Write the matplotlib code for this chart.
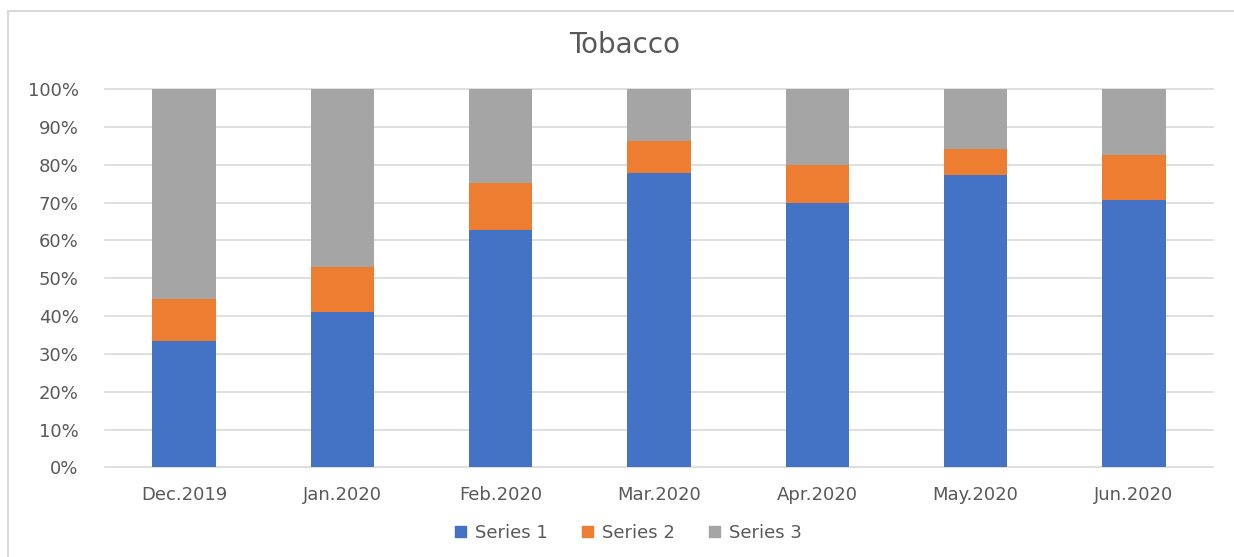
import matplotlib
matplotlib.use("Agg")
import matplotlib.pyplot as plt
from matplotlib.lines import Line2D
from matplotlib.patches import Patch
from matplotlib.ticker import PercentFormatter
import numpy as np

plt.rcParams['font.family'] = ['DejaVu Sans']

months = ['Dec.2019', 'Jan.2020', 'Feb.2020', 'Mar.2020', 'Apr.2020', 'May.2020', 'Jun.2020']
series1 = [33.4, 41.1, 62.7, 77.9, 70.0, 77.3, 70.6]
series2 = [11.1, 11.9, 12.5, 8.4, 10.0, 6.8, 11.9]
series3 = [55.5, 47.0, 24.8, 13.7, 20.0, 15.9, 17.5]
names = ['Series 1', 'Series 2', 'Series 3']
colors = ['#4472C4', '#ED7D31', '#A5A5A5']
text_grey = '#595959'

fig = plt.figure(figsize=(12.34, 5.57), dpi=100)
ax = fig.add_axes([0.0851, 0.1607, 0.8979, 0.6795])

x = np.arange(len(months))
bottom = np.zeros(len(months))
for vals, name, c in zip([series1, series2, series3], names, colors):
    ax.bar(x, vals, 0.4, bottom=bottom, color=c, label=name, zorder=3)
    bottom += np.array(vals)

ax.set_xlim(-0.5, len(months) - 0.5)
ax.set_ylim(0, 100)
ax.set_yticks(np.arange(0, 101, 10))
ax.yaxis.set_major_formatter(PercentFormatter(decimals=0))
ax.set_xticks(x)
ax.set_xticklabels(months)
ax.tick_params(length=0, labelsize=13, labelcolor=text_grey)
ax.tick_params(axis='x', pad=13)
ax.tick_params(axis='y', pad=19)
ax.grid(axis='y', color='#D9D9D9', linewidth=1.2, zorder=0)
for gl in ax.get_ygridlines():
    gl.set_clip_on(False)
for s in ax.spines.values():
    s.set_visible(False)

fig.text(0.506, 0.919, 'Tobacco', ha='center', va='center', fontsize=20, color=text_grey)

handles = [Patch(color=c) for c in colors]
fig.legend(handles, names, loc='center', bbox_to_anchor=(0.509, 0.043), ncol=3,
           frameon=False, fontsize=13, labelcolor=text_grey,
           handlelength=0.6, handleheight=0.6, handletextpad=0.5, columnspacing=1.9)

# thin outer frame on the left and top
fig.add_artist(Line2D([0.0065, 0.0065], [0.0, 0.981], color='#D9D9D9', linewidth=1.5))
fig.add_artist(Line2D([0.0065, 1.0], [0.981, 0.981], color='#D9D9D9', linewidth=1.5))

fig.savefig('out.png', dpi=100)
